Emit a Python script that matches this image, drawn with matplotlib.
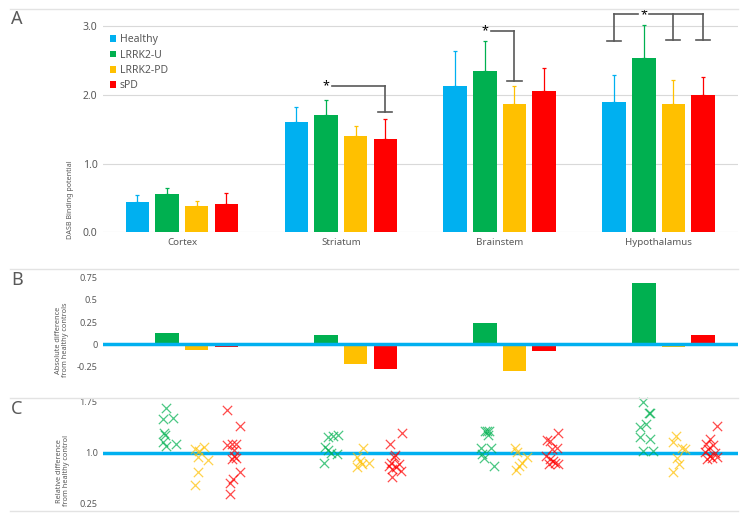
import numpy as np
import matplotlib
matplotlib.use("Agg")
import matplotlib.pyplot as plt
from matplotlib.lines import Line2D
from matplotlib.patches import Patch

plt.rcParams['font.family'] = ['Noto Sans', 'DejaVu Sans']

# ---- data ----
regions = ["Cortex", "Striatum", "Brainstem", "Hypothalamus"]
groups = ["Healthy", "LRRK2-U", "LRRK2-PD", "sPD"]
colors = ["#00B0F0", "#00B050", "#FFC000", "#FF0000"]

# panel A: mean binding potential and length of error bar
healthy = [0.44, 1.60, 2.13, 1.89]
lrrk2_u = [0.55, 1.70, 2.35, 2.53]
lrrk2_pd = [0.38, 1.40, 1.86, 1.86]
spd = [0.41, 1.35, 2.06, 2.00]
healthy_err = [0.10, 0.22, 0.51, 0.40]
lrrk2_u_err = [0.10, 0.23, 0.43, 0.49]
lrrk2_pd_err = [0.08, 0.15, 0.26, 0.35]
spd_err = [0.16, 0.30, 0.33, 0.26]

# panel B: absolute difference from healthy controls
diff_u = [0.13, 0.105, 0.24, 0.69]
diff_pd = [-0.06, -0.22, -0.30, -0.03]
diff_spd = [-0.025, -0.28, -0.075, 0.11]

# panel C: relative difference per subject (values) and horizontal jitter (pixels)
rel_u = [
    [1.645, 1.49, 1.51, 1.28, 1.26, 1.16, 1.10, 1.12],
    [1.23, 1.24, 1.26, 1.08, 1.03, 1.00, 0.975, 0.84],
    [1.31, 1.32, 1.26, 1.31, 1.07, 1.06, 0.985, 0.92, 0.81],
    [1.74, 1.57, 1.58, 1.42, 1.37, 1.22, 1.19, 1.015, 1.015],
]
jit_u = [
    [-1.2, -4.2, 5.5, -3.5, -1.8, -4.5, -1.5, 8.5],
    [2.2, 7.2, 11.5, -1.2, 1.5, 4.8, 10.5, -1.8],
    [1.8, 4.5, 3.2, 0.5, -3.8, 6.2, -2.8, -0.5, 9.5],
    [-0.5, 4.8, 6.2, 2.2, -3.8, -3.8, 6.2, -0.5, 8.8],
]
rel_pd = [
    [1.05, 1.08, 1.02, 0.93, 0.89, 0.72, 0.53],
    [1.06, 0.93, 0.88, 0.84, 0.79, 0.83],
    [1.06, 1.01, 0.93, 0.85, 0.74, 0.80],
    [1.24, 1.15, 1.05, 1.06, 0.92, 0.83, 0.72],
]
jit_pd = [
    [-1.8, 7.5, 2.5, 1.5, 10.8, 1.5, -1.8],
    [7.5, 1.5, 4.8, 13.2, 1.5, 6.5],
    [0.5, 2.8, 12.2, 7.2, 1.5, 4.5],
    [2.5, -0.8, 11.5, 8.2, 3.2, 5.8, -0.8],
]
rel_spd = [
    [1.62, 1.38, 1.11, 1.13, 1.12, 1.03, 0.95, 0.92, 0.91, 0.72, 0.61, 0.56, 0.40],
    [1.29, 1.13, 0.93, 0.85, 0.83, 0.97, 0.76, 0.73, 0.64, 0.80, 0.79],
    [1.29, 1.18, 1.17, 1.07, 1.05, 0.95, 0.90, 0.85, 0.83, 0.83, 0.88],
    [1.38, 1.19, 1.12, 1.11, 1.05, 1.00, 1.01, 0.95, 0.93, 0.90, 0.92],
]
jit_spd = [
    [0.7, 13.7, 0.7, 5.3, 9.7, 7.3, 8, 9.7, 6, 13.7, 6.3, 4, 4],
    [16.3, 4.3, 8.7, 5.3, 13.7, 10, 7, 15.3, 6.3, 3.7, 11],
    [14.3, 3.3, 6, 12.7, 7.7, 2, 6, 11, 5.3, 14.3, 8.7],
    [14.3, 7, 3, 10.3, 5.3, 12, 2, 7, 13.7, 4.3, 8.7],
]

# ---- layout ----
W, H = 751, 521
fig = plt.figure(figsize=(W / 100, H / 100), dpi=100)
txt = "#595959"
grid = "#d9d9d9"
x = np.arange(len(regions))
offs = [-0.28, -0.093, 0.093, 0.28]
bw = 0.148
px = 1 / 159.0  # one pixel in category units


def box(top_px, bot_px):
    return [102.5 / W, 1 - bot_px / H, 635.5 / W, (bot_px - top_px) / H]


axA = fig.add_axes(box(12.2, 232.3))
axB = fig.add_axes(box(273.3, 372.7))
axC = fig.add_axes(box(397.6, 507.4))

for ax in (axA, axB, axC):
    ax.set_xlim(-0.5, 3.5)
    for s in ax.spines.values():
        s.set_visible(False)
    ax.tick_params(length=0, colors=txt)

# ---- panel A ----
means = [healthy, lrrk2_u, lrrk2_pd, spd]
errs = [healthy_err, lrrk2_u_err, lrrk2_pd_err, spd_err]
axA.set_ylim(0, 3.2)
axA.set_yticks([0, 1, 2, 3])
axA.set_yticklabels(["0.0", "1.0", "2.0", "3.0"], fontsize=7.5)
axA.yaxis.grid(True, color=grid, lw=0.8)
axA.set_axisbelow(True)
for i in range(4):
    axA.bar(x + offs[i], means[i], bw, color=colors[i], label=groups[i], zorder=2)
    axA.errorbar(x + offs[i], means[i], yerr=[np.zeros(4), errs[i]], fmt="none",
                 ecolor=colors[i], elinewidth=0.9, capsize=1.5, capthick=0.9, zorder=3)
axA.set_xticks(x)
axA.set_xticklabels(regions, fontsize=7, color=txt)
axA.tick_params(axis="x", pad=4)

leg_handles = [Patch(facecolor=c, label=g) for c, g in zip(colors, groups)]
axA.legend(handles=leg_handles, loc="upper left", bbox_to_anchor=(0.012, 0.9),
           frameon=False, fontsize=7.5, handlelength=0.6, handleheight=0.6,
           handletextpad=0.3, labelspacing=0.42, labelcolor=txt,
           borderaxespad=0, borderpad=0)

bk = "#595959"
cap = 0.045


def vline_cap(xc, ytop, ybot):
    axA.plot([xc, xc], [ytop, ybot], color=bk, lw=1.2, clip_on=False)
    axA.plot([xc - cap, xc + cap], [ybot, ybot], color=bk, lw=1.2, clip_on=False)


# Striatum: LRRK2-U vs sPD
axA.text(1 + offs[1], 2.13, "*", ha="center", va="center", fontsize=9)
axA.plot([1 + offs[1] + 0.04, 1 + offs[3]], [2.13, 2.13], color=bk, lw=1.2)
vline_cap(1 + offs[3], 2.13, 1.75)
# Brainstem: LRRK2-U vs LRRK2-PD
axA.text(2 + offs[1], 2.93, "*", ha="center", va="center", fontsize=9)
axA.plot([2 + offs[1] + 0.04, 2 + offs[2]], [2.93, 2.93], color=bk, lw=1.2)
vline_cap(2 + offs[2], 2.93, 2.2)
# Hypothalamus: LRRK2-U vs all others
axA.text(3 + offs[1], 3.17, "*", ha="center", va="center", fontsize=9)
axA.plot([3 + offs[0], 3 + offs[1] - 0.035], [3.17, 3.17], color=bk, lw=1.2, clip_on=False)
axA.plot([3 + offs[1] + 0.035, 3 + offs[3]], [3.17, 3.17], color=bk, lw=1.2, clip_on=False)
vline_cap(3 + offs[0], 3.17, 2.78)
vline_cap(3 + offs[2], 3.17, 2.79)
vline_cap(3 + offs[3], 3.17, 2.79)

# ---- panel B ----
diffs = [diff_u, diff_pd, diff_spd]
axB.set_ylim(-0.32, 0.80)
axB.set_yticks([-0.25, 0, 0.25, 0.5, 0.75])
axB.set_yticklabels(["-0.25", "0", "0.25", "0.5", "0.75"], fontsize=6.5)
axB.set_xticks([])
for i in range(3):
    axB.bar(x + offs[i + 1], diffs[i], bw, color=colors[i + 1], zorder=2)
axB.axhline(0, color=colors[0], lw=2.5, zorder=3)

# ---- panel C ----
rels = [rel_u, rel_pd, rel_spd]
jits = [jit_u, jit_pd, jit_spd]
axC.set_ylim(0.2, 1.8)
axC.set_yticks([0.25, 1.0, 1.75])
axC.set_yticklabels(["0.25", "1.0", "1.75"], fontsize=6.5)
axC.set_xticks([])
axC.axhline(1.0, color=colors[0], lw=2.5, zorder=1)
for i in range(3):
    for r in range(4):
        xs = r + offs[i + 1] + np.array(jits[i][r]) * px
        axC.scatter(xs, rels[i][r], marker="x", s=45, linewidths=0.9,
                    color=colors[i + 1], alpha=0.7, zorder=2, clip_on=False)

# ---- figure furniture ----
for yy in (9.3, 269.3, 398, 511):
    fig.add_artist(Line2D([10 / W, 738 / W], [1 - yy / H, 1 - yy / H],
                          color="#e3e3e3", lw=1))
for lab, yy in (("A", 19), ("B", 280), ("C", 409)):
    fig.text(17 / W, 1 - yy / H, lab, ha="center", va="center", fontsize=13,
             color=txt, fontweight="light")
fig.text(70 / W, 1 - 200 / H, "DASB Binding potential", rotation=90,
         ha="center", va="center", fontsize=5.2, color=txt)
fig.text(62 / W, 1 - 340 / H, "Absolute difference\nfrom healthy controls",
         rotation=90, ha="center", va="center", fontsize=5.3, color=txt,
         multialignment="center", linespacing=1.1)
fig.text(63 / W, 1 - 471 / H, "Relative difference\nfrom healthy control",
         rotation=90, ha="center", va="center", fontsize=5.3, color=txt,
         multialignment="center", linespacing=1.1)

fig.savefig("out.png", dpi=100)
